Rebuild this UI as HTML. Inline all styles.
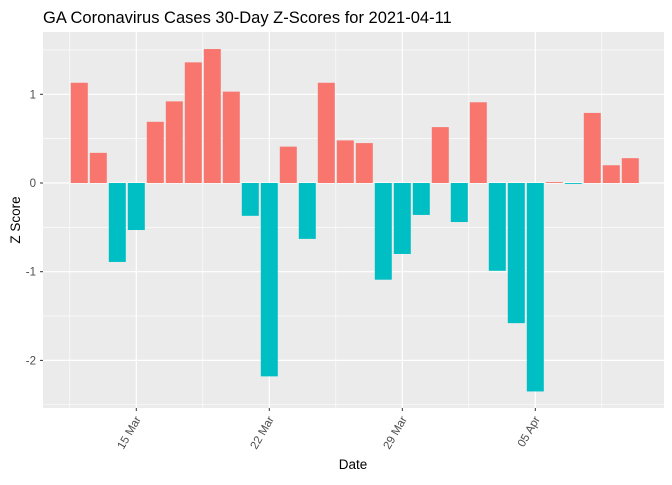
<!DOCTYPE html>
<html><head><meta charset="utf-8"><style>
body{margin:0;background:#fff;font-family:"Liberation Sans",Arial,sans-serif}
</style></head><body>
<svg id="chart" width="672" height="480" xmlns="http://www.w3.org/2000/svg">
<text x="43" y="23" font-size="16.5" fill="#000">GA Coronavirus Cases 30-Day Z-Scores for 2021-04-11</text>
<rect x="43" y="32" width="621" height="376" fill="#ebebeb"/>
<g id="grid"></g><g id="bars"></g><g id="axes"></g>
<text x="353" y="469" font-size="13.5" text-anchor="middle">Date</text>
<text transform="translate(20,220) rotate(-90)" font-size="13.5" text-anchor="middle">Z Score</text>
</svg>
<script>
const startDay = 12; // 12 Mar
const values = [1.13,0.34,-0.89,-0.53,0.69,0.92,1.36,1.51,1.03,-0.37,-2.18,0.41,-0.63,1.13,0.48,0.45,-1.09,-0.80,-0.36,0.63,-0.44,0.91,-0.99,-1.58,-2.35,0.01,-0.01,0.79,0.20,0.28];
const yTicks = [-2,-1,0,1];
const yMinor = [-2.5,-1.5,-0.5,0.5,1.5];
const xTickDays = [15,22,29,36];
const xTickLabels = ["15 Mar","22 Mar","29 Mar","05 Apr"];
const xMinorDays = [11.5,18.5,25.5,32.5,39.5];
const NS="http://www.w3.org/2000/svg";
const X = d => 136.3 + (d-15)*19;
const Y = v => 183 - v*88.7;
function mk(tag, attrs, parent){const e=document.createElementNS(NS,tag);for(const k in attrs)e.setAttribute(k,attrs[k]);parent.appendChild(e);return e;}
const grid=document.getElementById('grid'), bars=document.getElementById('bars'), axes=document.getElementById('axes');
yMinor.forEach(v=>{const l=mk('line',{x1:43,x2:664,y1:Y(v),y2:Y(v),stroke:'#fff','stroke-width':0.6},grid);
});
xMinorDays.forEach(d=>{const l=mk('line',{x1:X(d),x2:X(d),y1:32,y2:408,stroke:'#fff','stroke-width':0.6},grid);
});
yTicks.forEach(v=>{const l=mk('line',{x1:43,x2:664,y1:Y(v),y2:Y(v),stroke:'#fff','stroke-width':1.2},grid);

const t=mk('text',{x:36,y:Y(v)+4,'font-size':11.5,'text-anchor':'end',fill:'#4d4d4d'},axes);t.textContent=v;

mk('line',{x1:40,x2:43,y1:Y(v),y2:Y(v),stroke:'#333'},axes);});
xTickDays.forEach((d,i)=>{const l=mk('line',{x1:X(d),x2:X(d),y1:32,y2:408,stroke:'#fff','stroke-width':1.2},grid);

mk('line',{x1:X(d),x2:X(d),y1:408,y2:411,stroke:'#333'},axes);
const t=mk('text',{transform:`translate(${X(d)+5},${419}) rotate(-60)`,'font-size':11.5,'text-anchor':'end',fill:'#4d4d4d'},axes);t.textContent=xTickLabels[i];
});
values.forEach((v,i)=>{const cx=X(startDay+i);const y0=Y(0),y1=Y(v);
const r=mk('rect',{x:cx-8.5,width:17,y:Math.min(y0,y1),height:Math.max(Math.abs(y1-y0),0.8),fill:v>=0?'#f8766d':'#00bfc4'},bars);
});
</script>
</body></html>
